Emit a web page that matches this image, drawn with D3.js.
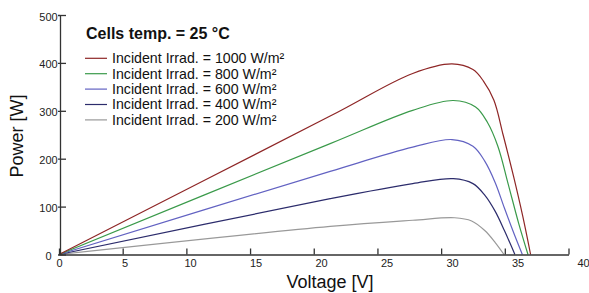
<!DOCTYPE html>
<html>
<head>
<meta charset="utf-8">
<script src="https://cdn.jsdelivr.net/npm/d3@7"></script>
<style>
  body { margin: 0; background: #fff; }
  svg { display: block; font-family: "Liberation Sans", Arial, sans-serif; }
</style>
</head>
<body>
<script>
// DATA
var irradiance = [1000, 800, 600, 400, 200];

var volts1000 = [0, 20.7, 27, 30.0, 31.6, 32.4, 33.2, 33.9, 34.7, 35.4, 36.0];
var power1000 = [0, 289, 378, 398, 386, 362, 322, 250, 163, 80, 0];

var volts800 = [0, 20.7, 27, 30.1, 31.8, 32.7, 33.5, 34.3, 35.1, 35.8];
var power800 = [0, 231.5, 301, 321.5, 308, 276, 226, 146, 64, 0];

var volts600 = [0, 20.7, 27, 30.0, 31.6, 32.5, 33.3, 34.0, 34.7, 35.37];
var power600 = [0, 173.6, 224, 240, 226, 195, 150, 97, 46, 0];

var volts400 = [0, 20.7, 27, 30.1, 31.6, 32.5, 33.3, 34.0, 34.8];
var power400 = [0, 116.5, 148, 158.3, 148, 124, 90, 50, 0];

var volts200 = [0, 20.7, 27, 30.2, 31.5, 32.5, 33.3, 33.97];
var power200 = [0, 58.6, 71.5, 76.7, 70, 50, 25, 0];

var xTicks = [0, 5, 10, 15, 20, 25, 30, 35, 40];
var yTicks = [0, 100, 200, 300, 400, 500];

// INPUTS
var width = 589,
  height = 293;

var colors = ["#8e2626", "#3a9a4a", "#6262c2", "#2c2c6c", "#999999"];

var allVolts = [volts1000, volts800, volts600, volts400, volts200];
var allPower = [power1000, power800, power600, power400, power200];

var series = irradiance.map(function (g, k) {
  return {
    name: "Incident Irrad. = " + g + " W/m\u00b2",
    color: colors[k],
    values: allVolts[k].map(function (v, j) {
      return [v, allPower[k][j]];
    })
  };
});

var svg = d3.select("body").append("svg")
  .attr("width", width)
  .attr("height", height);

// data and tick labels share this scale, tick marks sit on a slightly shorter one
var x = d3.scaleLinear().domain([0, 40]).range([59, 583]);
var xTick = d3.scaleLinear().domain([0, 40]).range([59, 568.5]);
var y = d3.scaleLinear().domain([0, 500]).range([254.5, 15]);

// curves
var line = d3.line()
  .x(function (d) { return x(d[0]); })
  .y(function (d) { return y(d[1]); })
  .curve(d3.curveCatmullRom.alpha(0.5));

svg.selectAll("path.curve")
  .data(series.slice().reverse())
  .enter().append("path")
  .attr("class", "curve")
  .attr("fill", "none")
  .attr("stroke", function (d) { return d.color; })
  .attr("stroke-width", 1.2)
  .attr("d", function (d) { return line(d.values); });

// x axis: tick marks
var gx = svg.append("g")
  .attr("transform", "translate(0," + y(0) + ")")
  .call(d3.axisBottom(xTick).tickValues(xTicks).tickSizeInner(-6).tickSizeOuter(0).tickFormat(""));

// x axis: labels
var gxl = svg.append("g")
  .attr("transform", "translate(0," + y(0) + ")")
  .call(d3.axisBottom(x).tickValues(xTicks).tickSize(0).tickPadding(5));
gxl.select(".domain").remove();

// y axis: ticks reach both sides of the line
var gy = svg.append("g")
  .attr("transform", "translate(60,0)")
  .call(d3.axisLeft(y).tickValues(yTicks).tickSizeInner(-6).tickSizeOuter(0).tickFormat(""));
var gy2 = svg.append("g")
  .attr("transform", "translate(60,0)")
  .call(d3.axisLeft(y).tickValues(yTicks).tickSize(2).tickFormat(""));
gy2.select(".domain").remove();

// y axis: labels, centred
var gyl = svg.append("g")
  .attr("transform", "translate(60,1.5)")
  .call(d3.axisLeft(y).tickValues(yTicks).tickSize(0).tickPadding(0));
gyl.select(".domain").remove();
gyl.selectAll("text").attr("x", -11.5).attr("text-anchor", "middle");

svg.selectAll(".domain, .tick line")
  .attr("stroke", "#333")
  .attr("stroke-width", 1.3);
svg.selectAll(".tick text")
  .attr("font-size", 11)
  .attr("font-family", "Liberation Sans, Arial, sans-serif")
  .attr("fill", "#222");

// axis titles
svg.append("text")
  .attr("x", 330)
  .attr("y", 288)
  .attr("text-anchor", "middle")
  .attr("font-size", 18)
  .attr("fill", "#111")
  .text("Voltage [V]");

svg.append("text")
  .attr("transform", "translate(23,136) rotate(-90)")
  .attr("text-anchor", "middle")
  .attr("font-size", 18)
  .attr("fill", "#111")
  .text("Power [W]");

// legend
svg.append("text")
  .attr("x", 86)
  .attr("y", 38.5)
  .attr("font-size", 16)
  .attr("font-weight", "bold")
  .attr("fill", "#111")
  .text("Cells temp. = 25 \u00b0C");

var legend = svg.selectAll("g.legend")
  .data(series)
  .enter().append("g")
  .attr("class", "legend")
  .attr("transform", function (d, i) {
    return "translate(85," + (58.3 + 15.4 * i) + ")";
  });

legend.append("line")
  .attr("x1", 0)
  .attr("x2", 22)
  .attr("stroke", function (d) { return d.color; })
  .attr("stroke-width", 1.2);

legend.append("text")
  .attr("x", 27)
  .attr("dy", "0.35em")
  .attr("font-size", 14.2)
  .attr("fill", "#111")
  .text(function (d) { return d.name; });
</script>
</body>
</html>
